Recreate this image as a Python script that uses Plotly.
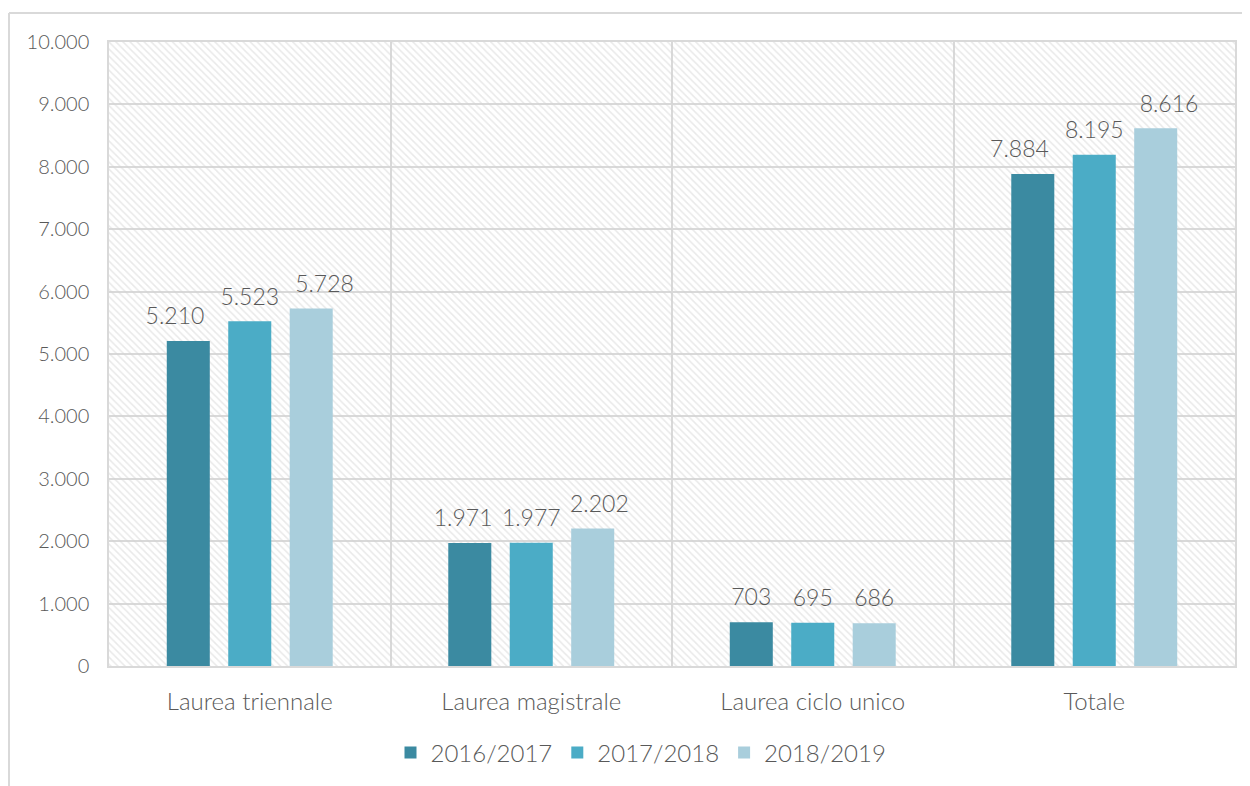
import plotly.graph_objects as go

categories = ["Laurea triennale", "Laurea magistrale", "Laurea ciclo unico", "Totale"]
years = ["2016/2017", "2017/2018", "2018/2019"]
v_2016 = [5210, 1971, 703, 7884]
v_2017 = [5523, 1977, 695, 8195]
v_2018 = [5728, 2202, 686, 8616]
series = [v_2016, v_2017, v_2018]
colors = ["#3B8AA1", "#4BACC6", "#A9CEDC"]
y_max = 10000
y_ticks = list(range(0, 10001, 1000))

FONT = "Lato"
WEIGHT = 300
GREY = "#595959"
LINE = "#D9D9D9"
GAP = 0.345

# label nudges (figure spaces) so neighbouring value labels do not collide
FS = "\u2007"
label_templates = [
    ["%{y:,d}" + FS * 2, "%{y:,d}" + FS, "%{y:,d}", "%{y:,d}" + FS * 2],
    ["%{y:,d}"] * 4,
    [FS * 2 + "%{y:,d}", FS + "%{y:,d}", "%{y:,d}", FS * 2 + "%{y:,d}"],
]

fig = go.Figure()

# hatched background of the plot area (decorative), on the main (hidden) x axis
fig.add_trace(go.Bar(
    x=[0.5], y=[y_max], width=[1], xaxis="x", yaxis="y",
    marker=dict(color="rgba(0,0,0,0)", line=dict(width=0),
                pattern=dict(shape="\\", fgcolor="#D3D3D3", bgcolor="rgba(0,0,0,0)",
                             size=5, solidity=0.3)),
    showlegend=False, hoverinfo="skip",
))

for i, (name, vals, col) in enumerate(zip(years, series, colors)):
    fig.add_trace(go.Bar(
        x=categories, y=vals, name=name, marker_color=col,
        marker_line_width=0, xaxis="x2", yaxis="y",
        offsetgroup=str(i), alignmentgroup="a",
    ))

# value labels, grouped like the bars
for i, vals in enumerate(series):
    fig.add_trace(go.Scatter(
        x=categories, y=vals, mode="markers+text", xaxis="x2", yaxis="y",
        offsetgroup=str(i), alignmentgroup="a",
        marker=dict(size=16, opacity=0),
        text=vals, texttemplate=label_templates[i], textposition="top center",
        textfont=dict(family=FONT, size=23, color=GREY, weight=WEIGHT),
        cliponaxis=False, showlegend=False, hoverinfo="skip",
    ))

# screenshot offset of 8px (page body margin)
OFF = 8
W, H = 1250 - OFF, 786 - OFF
L, R, T, B = 109 - OFF, 1235 - OFF, 42 - OFF, 666 - OFF
pw, ph = R - L, B - T
def px(x): return (x - OFF - L) / pw
def py(y): return (B - (y - OFF)) / ph

fig.update_layout(
    width=W, height=H,
    margin=dict(l=L, r=W - R, t=T, b=H - B, autoexpand=False),
    paper_bgcolor="white", plot_bgcolor="white",
    separators=",.",
    barmode="group", bargap=GAP, bargroupgap=0.30,
    scattermode="group", scattergap=GAP,
    font=dict(family=FONT, color=GREY, weight=WEIGHT),
    xaxis=dict(range=[0, 1], visible=False, showgrid=False),
    xaxis2=dict(overlaying="x", side="bottom", showgrid=True, gridcolor=LINE, gridwidth=1.5,
                tickson="boundaries",
                showline=True, linecolor=LINE, mirror=True, linewidth=1.5, ticks="",
                tickfont=dict(size=24, color=GREY, weight=WEIGHT), ticklabelstandoff=13),
    yaxis=dict(range=[0, y_max], tickvals=y_ticks, tickformat=",d",
               showgrid=True, gridcolor=LINE, gridwidth=1.5, showline=True, linecolor=LINE,
               mirror=True, linewidth=1.5, zeroline=False,
               tickfont=dict(size=20, color=GREY, weight=WEIGHT), ticklabelstandoff=14),
    legend=dict(orientation="h", x=px(641), xanchor="center", y=py(753), yanchor="middle",
                font=dict(size=24, color=GREY, weight=WEIGHT), itemwidth=30,
                traceorder="normal", itemsizing="constant"),
    shapes=[
        dict(type="line", xref="paper", yref="paper", x0=px(9), x1=px(1260),
             y0=py(13), y1=py(13), line=dict(color=LINE, width=2)),
        dict(type="line", xref="paper", yref="paper", x0=px(9), x1=px(9),
             y0=py(13), y1=py(800), line=dict(color=LINE, width=2)),
    ],
)

fig.write_html("out.html")
